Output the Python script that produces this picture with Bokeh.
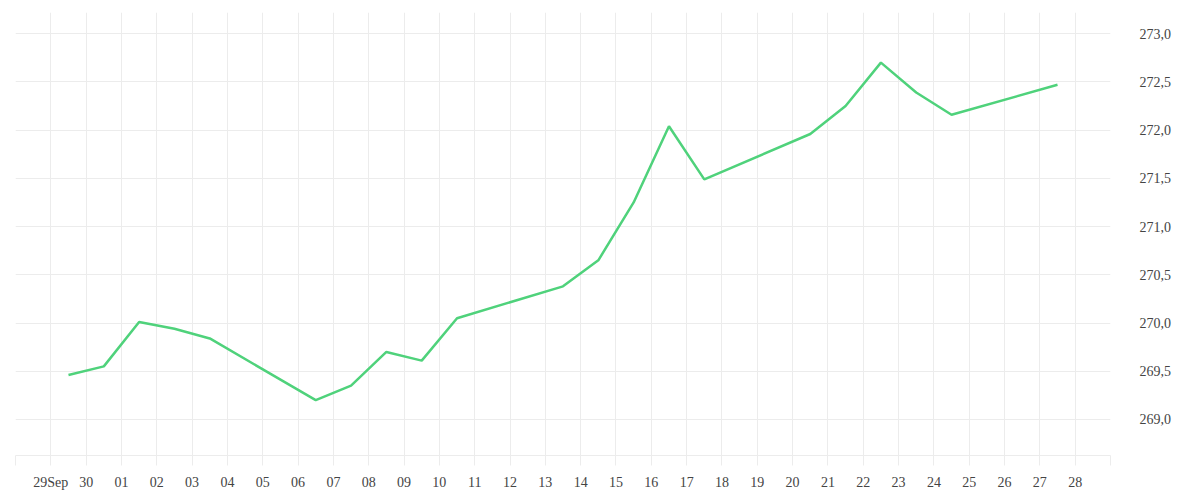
import pandas as pd
from bokeh.plotting import figure
from bokeh.models import Range1d, FixedTicker, CustomJSTickFormatter
from bokeh.embed import file_html
from bokeh.resources import INLINE

# ---- data ----
dates = ["2025-09-29", "2025-09-30", "2025-10-01", "2025-10-02", "2025-10-03",
         "2025-10-06", "2025-10-07", "2025-10-08", "2025-10-09", "2025-10-10",
         "2025-10-13", "2025-10-14", "2025-10-15", "2025-10-16", "2025-10-17",
         "2025-10-20", "2025-10-21", "2025-10-22", "2025-10-23", "2025-10-24",
         "2025-10-27"]
values = [269.46, 269.55, 270.01, 269.94, 269.84,
          269.20, 269.35, 269.70, 269.61, 270.05,
          270.38, 270.65, 271.25, 272.04, 271.49,
          271.96, 272.25, 272.70, 272.39, 272.16,
          272.47]
x_tick_labels = ["", "29Sep", "30", "01", "02", "03", "04", "05", "06", "07", "08",
                 "09", "10", "11", "12", "13", "14", "15", "16", "17", "18",
                 "19", "20", "21", "22", "23", "24", "25", "26", "27", "28", ""]
y_ticks = [269.0, 269.5, 270.0, 270.5, 271.0, 271.5, 272.0, 272.5, 273.0]

x = pd.to_datetime(dates) + pd.Timedelta(hours=12)
start = pd.Timestamp("2025-09-28")
end = pd.Timestamp("2025-10-29")
day_ms = 86400000.0
start_ms = start.value / 1e6
tick_ms = [start_ms + i * day_ms for i in range(len(x_tick_labels))]

p = figure(width=1192, height=492, x_axis_type="datetime", y_axis_location="right",
           output_backend="svg", toolbar_location=None,
           x_range=Range1d(start, end), y_range=Range1d(268.626, 273.22),
           min_border_left=15, min_border_top=12, min_border_right=82, min_border_bottom=34)
p.outline_line_color = None
p.background_fill_color = "white"
p.border_fill_color = "white"

p.line(x, values, line_color="#4fd27b", line_width=2.5)

grid_color = "#ececec"
p.xgrid.ticker = FixedTicker(ticks=tick_ms)
p.xgrid.grid_line_color = grid_color
p.ygrid.ticker = FixedTicker(ticks=y_ticks)
p.ygrid.grid_line_color = grid_color

xa = p.xaxis[0]
xa.ticker = FixedTicker(ticks=tick_ms)
xa.formatter = CustomJSTickFormatter(args=dict(labels=x_tick_labels, start=start_ms),
                                     code="""
const i = Math.round((tick - start) / 86400000);
return (i >= 0 && i < labels.length) ? labels[i] : '';
""")
xa.axis_line_color = grid_color
xa.major_tick_line_color = grid_color
xa.major_tick_out = 10
xa.major_tick_in = 0
xa.minor_tick_line_color = None
xa.major_label_standoff = 9
xa.major_label_text_font = "Liberation Serif"
xa.major_label_text_font_size = "14px"
xa.major_label_text_color = "#444444"

ya = p.yaxis[0]
ya.ticker = FixedTicker(ticks=y_ticks)
ya.formatter = CustomJSTickFormatter(code="return tick.toFixed(1).replace('.', ',');")
ya.axis_line_color = None
ya.major_tick_line_color = None
ya.minor_tick_line_color = None
ya.major_tick_out = 0
ya.major_tick_in = 0
ya.major_label_standoff = 29
ya.major_label_text_font = "Liberation Serif"
ya.major_label_text_font_size = "14px"
ya.major_label_text_color = "#444444"

open("out.html", "w").write(file_html(p, INLINE))
